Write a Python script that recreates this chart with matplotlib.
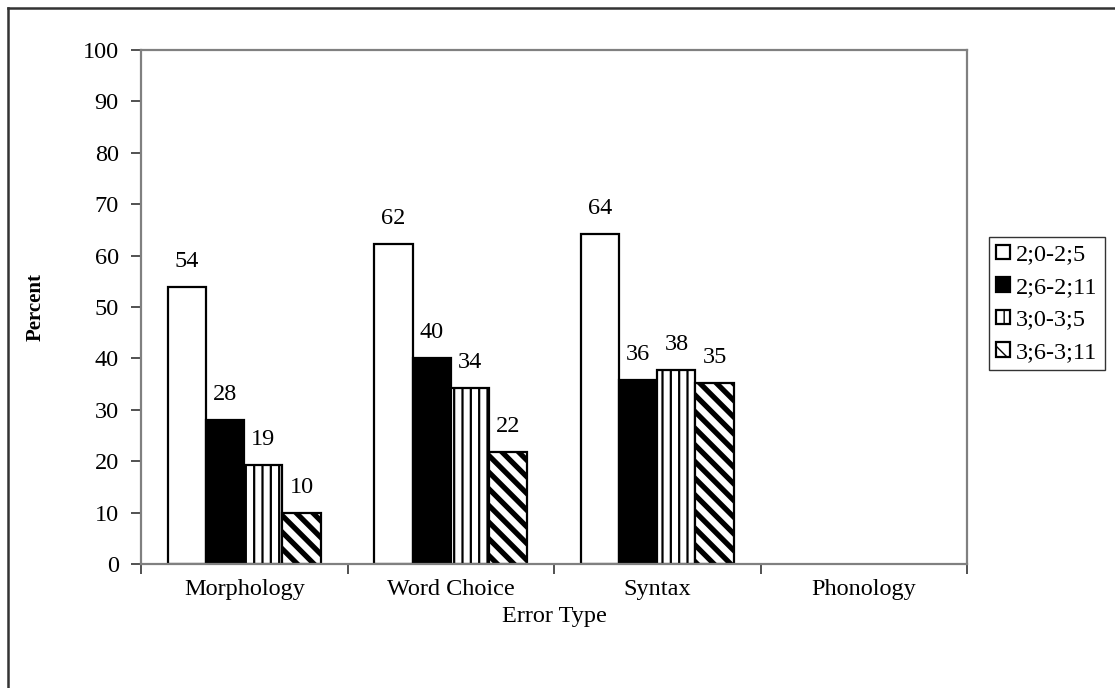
import numpy as np
import matplotlib
matplotlib.use('Agg')
import matplotlib.pyplot as plt
from matplotlib.lines import Line2D

# data
categories = ['Morphology', 'Word Choice', 'Syntax', 'Phonology']
series_names = ['2;0-2;5', '2;6-2;11', '3;0-3;5', '3;6-3;11']
age_20_25 = [53.9, 62.2, 64.2, np.nan]
age_26_211 = [28.0, 40.1, 35.8, np.nan]
age_30_35 = [19.3, 34.2, 37.7, np.nan]
age_36_311 = [9.9, 21.8, 35.2, np.nan]
yticks = list(range(0, 101, 10))

plt.rcParams['font.family'] = ['Liberation Serif', 'DejaVu Serif']
fs = 17.5

fig = plt.figure(figsize=(11.15, 6.88), dpi=100)
ax = fig.add_axes([0.1265, 0.1802, 0.7408, 0.747])

x = np.arange(len(categories))
w = 0.185
all_series = [age_20_25, age_26_211, age_30_35, age_36_311]
styles = [dict(color='white', hatch=None, hlw=1.0),
          dict(color='black', hatch=None, hlw=1.0),
          dict(color='white', hatch='||', hlw=1.6),
          dict(color='white', hatch='\\\\', hlw=3.8)]

handles = []
for i, (vals, st) in enumerate(zip(all_series, styles)):
    bars = ax.bar(x + (i - 1.5) * w, vals, w, facecolor=st['color'],
                  edgecolor='black', linewidth=1.6, hatch=st['hatch'],
                  label=series_names[i], zorder=2)
    for p in bars:
        try:
            p.set_hatch_linewidth(st['hlw'])
        except AttributeError:
            pass
    labs = ['' if np.isnan(v) else '%d' % round(v) for v in vals]
    ax.bar_label(bars, labels=labs, padding=11, fontsize=fs)
    handles.append(bars)

ax.set_xlim(-0.5, 3.5)
ax.set_ylim(0, 100)
ax.set_yticks(yticks)
ax.set_xticks(x)
ax.set_xticklabels(categories)
ax.set_xticks(np.arange(-0.5, 3.6, 1), minor=True)
ax.tick_params(axis='x', which='major', length=0, pad=11, labelsize=fs)
ax.tick_params(axis='x', which='minor', length=7, width=1.2, color='#333333')
ax.tick_params(axis='y', length=7, width=1.2, color='#333333', pad=9, labelsize=fs)
for s in ax.spines.values():
    s.set_color('#808080')
    s.set_linewidth(1.6)

ax.set_xlabel('Error Type', fontsize=fs, labelpad=4)
ax.set_ylabel('Percent', fontsize=15, fontweight='bold')
ax.yaxis.set_label_coords(-0.115, 0.5)

leg = fig.legend(handles=handles, labels=series_names, loc='upper left',
                 bbox_to_anchor=(0.887, 0.655), fontsize=fs, frameon=True,
                 fancybox=False, edgecolor='black', handlelength=0.55,
                 handleheight=0.55, handletextpad=0.25, labelspacing=0.47,
                 borderpad=0.3, borderaxespad=0)
leg.get_frame().set_linewidth(1.0)

# outer chart border (only left and top visible in the crop)
fig.add_artist(Line2D([8 / 1115, 8 / 1115], [0, 1 - 8 / 688], transform=fig.transFigure,
                      color='#333333', linewidth=1.8))
fig.add_artist(Line2D([8 / 1115, 1], [1 - 8 / 688, 1 - 8 / 688], transform=fig.transFigure,
                      color='#333333', linewidth=1.8))

fig.savefig('out.png', dpi=100)
